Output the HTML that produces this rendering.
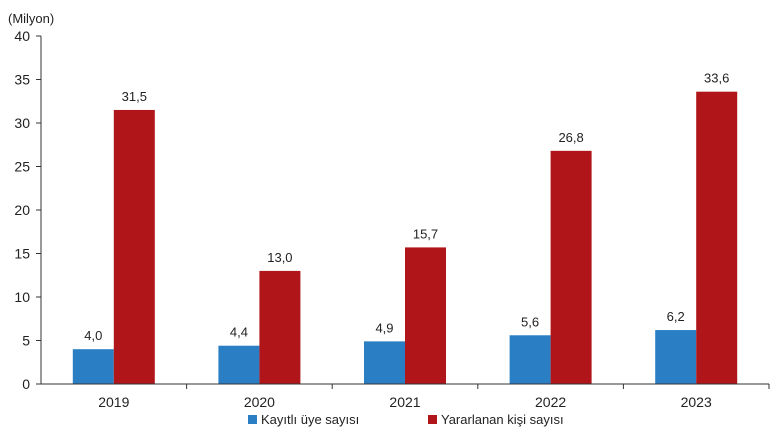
<!DOCTYPE html>
<html><head><meta charset="utf-8"><style>
body{margin:0;background:#fff;}
svg{display:block;font-family:"Liberation Sans",Arial,sans-serif;}
</style></head><body>
<svg id="c" width="780" height="440"></svg>
<script>
const categories=["2019","2020","2021","2022","2023"];
const registered=[4.0,4.4,4.9,5.6,6.2];
const beneficiaries=[31.5,13.0,15.7,26.8,33.6];
const yTicks=[0,5,10,15,20,25,30,35,40];
const seriesNames=["Kayıtlı üye sayısı","Yararlanan kişi sayısı"];
const colors=["#2a7fc4","#b01519"];
const svg=document.getElementById('c');
const NS='http://www.w3.org/2000/svg';
const x0=41,x1=769,y0=384,yTop=36,yMax=40;
const bw=(x1-x0)/categories.length;
const y=v=>y0-(v/yMax)*(y0-yTop);
function mk(t,a,txt){const e=document.createElementNS(NS,t);for(const k in a)e.setAttribute(k,a[k]);if(txt!==undefined)e.textContent=txt;svg.appendChild(e);return e;}
let e=mk('text',{x:8,y:23,'font-size':13,fill:'#222'},'(Milyon)');


yTicks.forEach(t=>{
 let l=mk('line',{x1:36,x2:x0,y1:y(t),y2:y(t),stroke:'#333','stroke-width':1});
 
 
 let tx=mk('text',{x:30,y:y(t)+5,'font-size':14,fill:'#222','text-anchor':'end'},String(t));
 
 
});
categories.forEach((c,i)=>{
 const cx=x0+bw*(i+0.5);
 const w=41;
 [registered[i],beneficiaries[i]].forEach((v,s)=>{
  const bx=s===0?cx-w:cx;
  let r=mk('rect',{x:bx,y:y(v),width:w,height:y0-y(v),fill:colors[s]});
  
  
  let t=mk('text',{x:bx+w/2,y:y(v)-9,'font-size':13,fill:'#222','text-anchor':'middle'},v.toFixed(1).replace('.',','));
  
  
 });
 let tl=mk('line',{x1:x0+bw*(i+1),x2:x0+bw*(i+1),y1:y0,y2:y0+5,stroke:'#333'});
 
 
 let lb=mk('text',{x:cx,y:407,'font-size':14,fill:'#222','text-anchor':'middle'},c);
 
 
});
let ax=mk('line',{x1:x0,x2:x0,y1:yTop,y2:y0,stroke:'#333'});


let bx=mk('line',{x1:x0,x2:x1,y1:y0,y2:y0,stroke:'#333'});


const lx=[248,428];
seriesNames.forEach((n,s)=>{
 let r=mk('rect',{x:lx[s],y:415,width:9,height:9,fill:colors[s]});
 
 
 let t=mk('text',{x:lx[s]+13,y:424,'font-size':13,fill:'#222'},n);
 
 
});
</script>
</body></html>
